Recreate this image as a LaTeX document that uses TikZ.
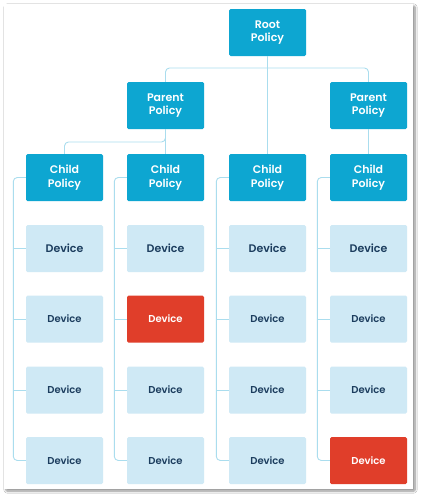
\documentclass[tikz,border=0pt]{standalone}
\usepackage{fontspec}
\setmainfont{Poppins}[BoldFont={* SemiBold}]
\usetikzlibrary{shadows.blur}
\definecolor{darkbox}{HTML}{0DA6D1}
\definecolor{lightbox}{HTML}{CFE9F5}
\definecolor{redbox}{HTML}{E03E2A}
\definecolor{navy}{HTML}{1C3D5E}
\definecolor{conn}{HTML}{AADDEE}
\tikzset{
  x=1pt,y=1pt,
  box/.style={minimum width=77pt,minimum height=47pt,inner sep=0pt,rounded corners=1.5pt,font=\bfseries\fontsize{11}{13.5}\selectfont,align=center},
  pol/.style={box,fill=darkbox,text=white},
  dev/.style={box,fill=lightbox,text=navy,font=\bfseries\fontsize{10}{12}\selectfont},
  devA/.style={dev,font=\bfseries\fontsize{11}{12}\selectfont},
  bad/.style={box,fill=redbox,text=white,font=\bfseries\fontsize{10}{12}\selectfont},
  link/.style={draw=conn,line width=0.9pt,rounded corners=4pt},
}
\begin{document}
\begin{tikzpicture}
\useasboundingbox (0,0) rectangle (423,-498);
\fill[white] (0,0) rectangle (423,-498);
\path[fill=white,blur shadow={shadow xshift=2pt,shadow yshift=-2pt,shadow blur steps=8,shadow blur extra rounding=1pt,shadow opacity=45}] (4,-4) rectangle (413,-489);
% nodes
\node[pol] (root) at (267.5,-32.5) {Root\\Policy};
\node[pol] (pl) at (165.5,-105.5) {Parent\\Policy};
\node[pol] (pr) at (368.5,-105.5) {Parent\\Policy};
\node[pol] (c1) at (64.5,-177.5) {Child\\Policy};
\node[pol] (c2) at (165.5,-177.5) {Child\\Policy};
\node[pol] (c3) at (267.5,-177.5) {Child\\Policy};
\node[pol] (c4) at (368.5,-177.5) {Child\\Policy};
\foreach \c/\x in {1/64.5,2/165.5,3/267.5,4/368.5}{
  \node[devA] (d\c1) at (\x,-248.5) {Device};
  \node[dev] (d\c3) at (\x,-390) {Device};
}
\node[dev] (d12) at (64.5,-319) {Device};
\node[bad] (d22) at (165.5,-319) {Device};
\node[dev] (d32) at (267.5,-319) {Device};
\node[dev] (d42) at (368.5,-319) {Device};
\node[dev] (d14) at (64.5,-460.5) {Device};
\node[dev] (d24) at (165.5,-460.5) {Device};
\node[dev] (d34) at (267.5,-460.5) {Device};
\node[bad] (d44) at (368.5,-460.5) {Device};
% connectors
\coordinate (busA) at (0,-68);
\coordinate (busB) at (0,-142);
\draw[link] (root.south) -- (c3.north);
\draw[link] (pl.north) -- (pl.north |- busA) -- (pr.north |- busA) -- (pr.north);
\draw[link] (pl.south) -- (pl.south |- busB) -- (c1.north |- busB) -- (c1.north);
\draw[link] (pr.south) -- (c4.north);
\draw[link] (pl.south) -- (c2.north);
\foreach \c in {1,2,3,4}{
  \draw[link] (c\c.west) -- ++(-12.5,0) |- (d\c4.west);
  \foreach \r in {1,2,3}{
    \draw[link] (d\c\r.west) -- ++(-13,0);
  }
}
\end{tikzpicture}
\end{document}
